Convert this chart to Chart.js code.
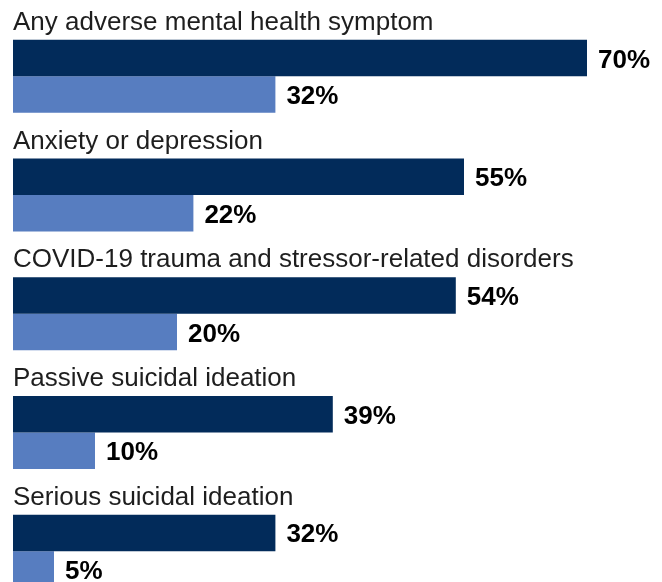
<!DOCTYPE html>
<html><head><meta charset="utf-8">
<script src="https://cdn.jsdelivr.net/npm/chart.js@4.4.1/dist/chart.umd.min.js"></script>
<style>
html,body{margin:0;padding:0;background:#fff;overflow:hidden;width:662px;height:582px}
#wrap{position:absolute;left:0;top:0;width:662px;height:620px}
</style>
</head><body><div id="wrap"><canvas id="c" width="662" height="620"></canvas></div>
<script>
const categories = [
  "Any adverse mental health symptom",
  "Anxiety or depression",
  "COVID-19 trauma and stressor-related disorders",
  "Passive suicidal ideation",
  "Serious suicidal ideation"
];
const seriesNames = ["Series 1", "Series 2"];
const seriesDark = [70, 55, 54, 39, 32];
const seriesLight = [32, 22, 20, 10, 5];
const axisMax = 78;

const labelFont = '26px "Liberation Sans", Arial, sans-serif';
const valueFont = 'bold 26px "Liberation Sans", Arial, sans-serif';

const annotate = {
  id: 'annotate',
  afterDatasetsDraw(chart) {
    const ctx = chart.ctx;
    ctx.save();
    // category labels above each pair of bars
    const m0 = chart.getDatasetMeta(0);
    ctx.font = labelFont;
    ctx.fillStyle = '#1e1e1e';
    ctx.textAlign = 'left';
    ctx.textBaseline = 'alphabetic';
    m0.data.forEach((bar, i) => {
      const p = bar.getProps(['y', 'height'], true);
      ctx.fillText(chart.data.labels[i], chart.chartArea.left, p.y - p.height / 2 - 10);
    });
    // value labels at bar ends
    ctx.font = valueFont;
    ctx.fillStyle = '#000';
    chart.data.datasets.forEach((ds, di) => {
      const meta = chart.getDatasetMeta(di);
      meta.data.forEach((bar, i) => {
        const p = bar.getProps(['x', 'y'], true);
        ctx.fillText(ds.data[i] + '%', p.x + 11, p.y + 9.5);
      });
    });
    ctx.restore();
  }
};

new Chart(document.getElementById('c'), {
  type: 'bar',
  data: {
    labels: categories,
    datasets: [
      { label: seriesNames[0], data: seriesDark, backgroundColor: '#022b5a', borderWidth: 0 },
      { label: seriesNames[1], data: seriesLight, backgroundColor: '#577dc0', borderWidth: 0 }
    ]
  },
  options: {
    indexAxis: 'y',
    responsive: false,
    animation: false,
    devicePixelRatio: 1,
    layout: { padding: { left: 13, right: 662 - 13 - axisMax * 8.2, top: 17, bottom: 9.5 } },
    datasets: { bar: { categoryPercentage: 0.615, barPercentage: 1.0 } },
    scales: {
      x: { display: false, min: 0, max: axisMax },
      y: { display: false }
    },
    plugins: { legend: { display: false }, tooltip: { enabled: false } }
  },
  plugins: [annotate]
});
</script>
</body></html>
